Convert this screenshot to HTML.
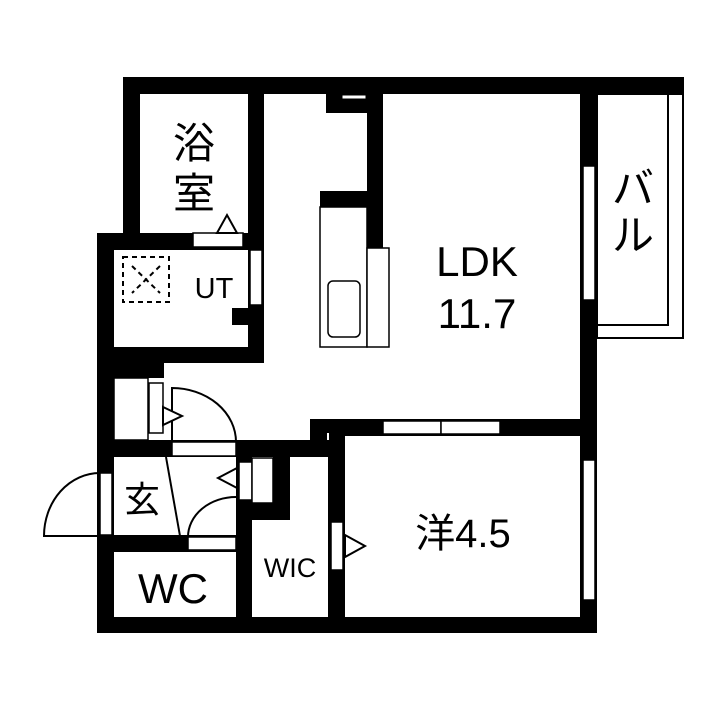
<!DOCTYPE html>
<html><head><meta charset="utf-8"><style>
html,body{margin:0;padding:0;background:#fff;}
svg{display:block;}
text{font-family:"Liberation Sans","Noto Sans CJK JP",sans-serif;fill:#000;}
</style></head><body>
<svg width="720" height="720" viewBox="0 0 720 720" xmlns="http://www.w3.org/2000/svg">
<rect width="720" height="720" fill="#fff"/>
<!-- balcony -->
<rect x="597" y="94" width="86" height="244" fill="none" stroke="#000" stroke-width="2"/>
<polyline points="668,94 668,325 597,325" fill="none" stroke="#000" stroke-width="2"/>
<g fill="#000">
<rect x="123" y="77" width="561" height="17"/>
<rect x="123" y="77" width="17" height="173"/>
<rect x="248" y="77" width="16" height="286"/>
<rect x="97" y="233" width="167" height="17"/>
<rect x="97" y="233" width="17" height="400"/>
<rect x="97" y="347" width="167" height="16"/>
<rect x="97" y="347" width="67" height="31"/>
<rect x="232" y="308" width="16" height="17"/>
<rect x="326" y="94" width="41" height="19"/>
<rect x="367" y="94" width="16" height="154"/>
<rect x="320" y="191" width="47" height="16"/>
<rect x="580" y="77" width="17" height="556"/>
<rect x="310" y="419" width="287" height="17"/>
<rect x="310" y="419" width="35" height="38"/>
<rect x="97" y="440" width="213" height="17"/>
<rect x="328" y="419" width="17" height="214"/>
<rect x="236" y="440" width="16" height="193"/>
<rect x="273" y="440" width="17" height="80"/>
<rect x="252" y="503" width="38" height="17"/>
<rect x="97" y="535" width="155" height="17"/>
<rect x="97" y="617" width="500" height="16"/>
</g>
<g fill="#fff" stroke="#000" stroke-width="1.5">
<rect x="193" y="233" width="50" height="14"/>
<rect x="250" y="250" width="12" height="55"/>
<rect x="342" y="95" width="24" height="4" stroke-width="1"/>
<rect x="583" y="166" width="12" height="134"/>
<rect x="583" y="460" width="12" height="140"/>
<rect x="383" y="421" width="58" height="13"/>
<rect x="441" y="421" width="59" height="13"/>
<rect x="114" y="378" width="34" height="62"/>
<rect x="149" y="383" width="14" height="50"/>
<rect x="172" y="442" width="64" height="14"/>
<rect x="100" y="473" width="12" height="62"/>
<rect x="239" y="462" width="13" height="38"/>
<rect x="252" y="458" width="21" height="45"/>
<rect x="188" y="537" width="48" height="13"/>
<rect x="331" y="522" width="12" height="48"/>
<rect x="320" y="207" width="47" height="140"/>
<rect x="367" y="248" width="22" height="99"/>
<rect x="328" y="281" width="32" height="56" rx="5"/>
</g>
<g fill="none" stroke="#000" stroke-width="2">
<path d="M172,442 L172,388 A64,54 0 0 1 236,442"/>
<path d="M236,497 A48,40 0 0 0 188,537"/>
<path d="M100,473 A56,63 0 0 0 44,536 L100,536"/>
<line x1="166" y1="457" x2="180" y2="536"/>
<polygon points="217,233 227,215 237,233" fill="#fff"/>
<polygon points="163,407 182,416 163,425" fill="#fff"/>
<polygon points="237,468 218,478 237,488" fill="#fff"/>
<polygon points="345,535 365,546 345,557" fill="#fff"/>
<line x1="328" y1="433" x2="328" y2="440" stroke="#fff"/>
</g>
<g fill="none" stroke="#000" stroke-width="2" stroke-dasharray="5,4">
<rect x="123" y="257" width="46" height="45"/>
<line x1="132" y1="266" x2="160" y2="293"/>
<line x1="160" y1="266" x2="132" y2="293"/>
</g>
<text x="194" y="158" font-size="42" text-anchor="middle">浴</text>
<text x="194" y="208" font-size="42" text-anchor="middle">室</text>
<text x="214" y="298" font-size="29" text-anchor="middle">UT</text>
<text x="477" y="276" font-size="42" text-anchor="middle">LDK</text>
<text x="477" y="328" font-size="42" text-anchor="middle">11.7</text>
<text x="633" y="203" font-size="42" text-anchor="middle">バ</text>
<text x="633" y="250" font-size="42" text-anchor="middle">ル</text>
<text x="142" y="512" font-size="36" text-anchor="middle">玄</text>
<text x="173" y="603" font-size="42" text-anchor="middle">WC</text>
<text x="290" y="577" font-size="27" text-anchor="middle">WIC</text>
<text x="463" y="547" font-size="40" text-anchor="middle">洋4.5</text>
</svg>
</body></html>
